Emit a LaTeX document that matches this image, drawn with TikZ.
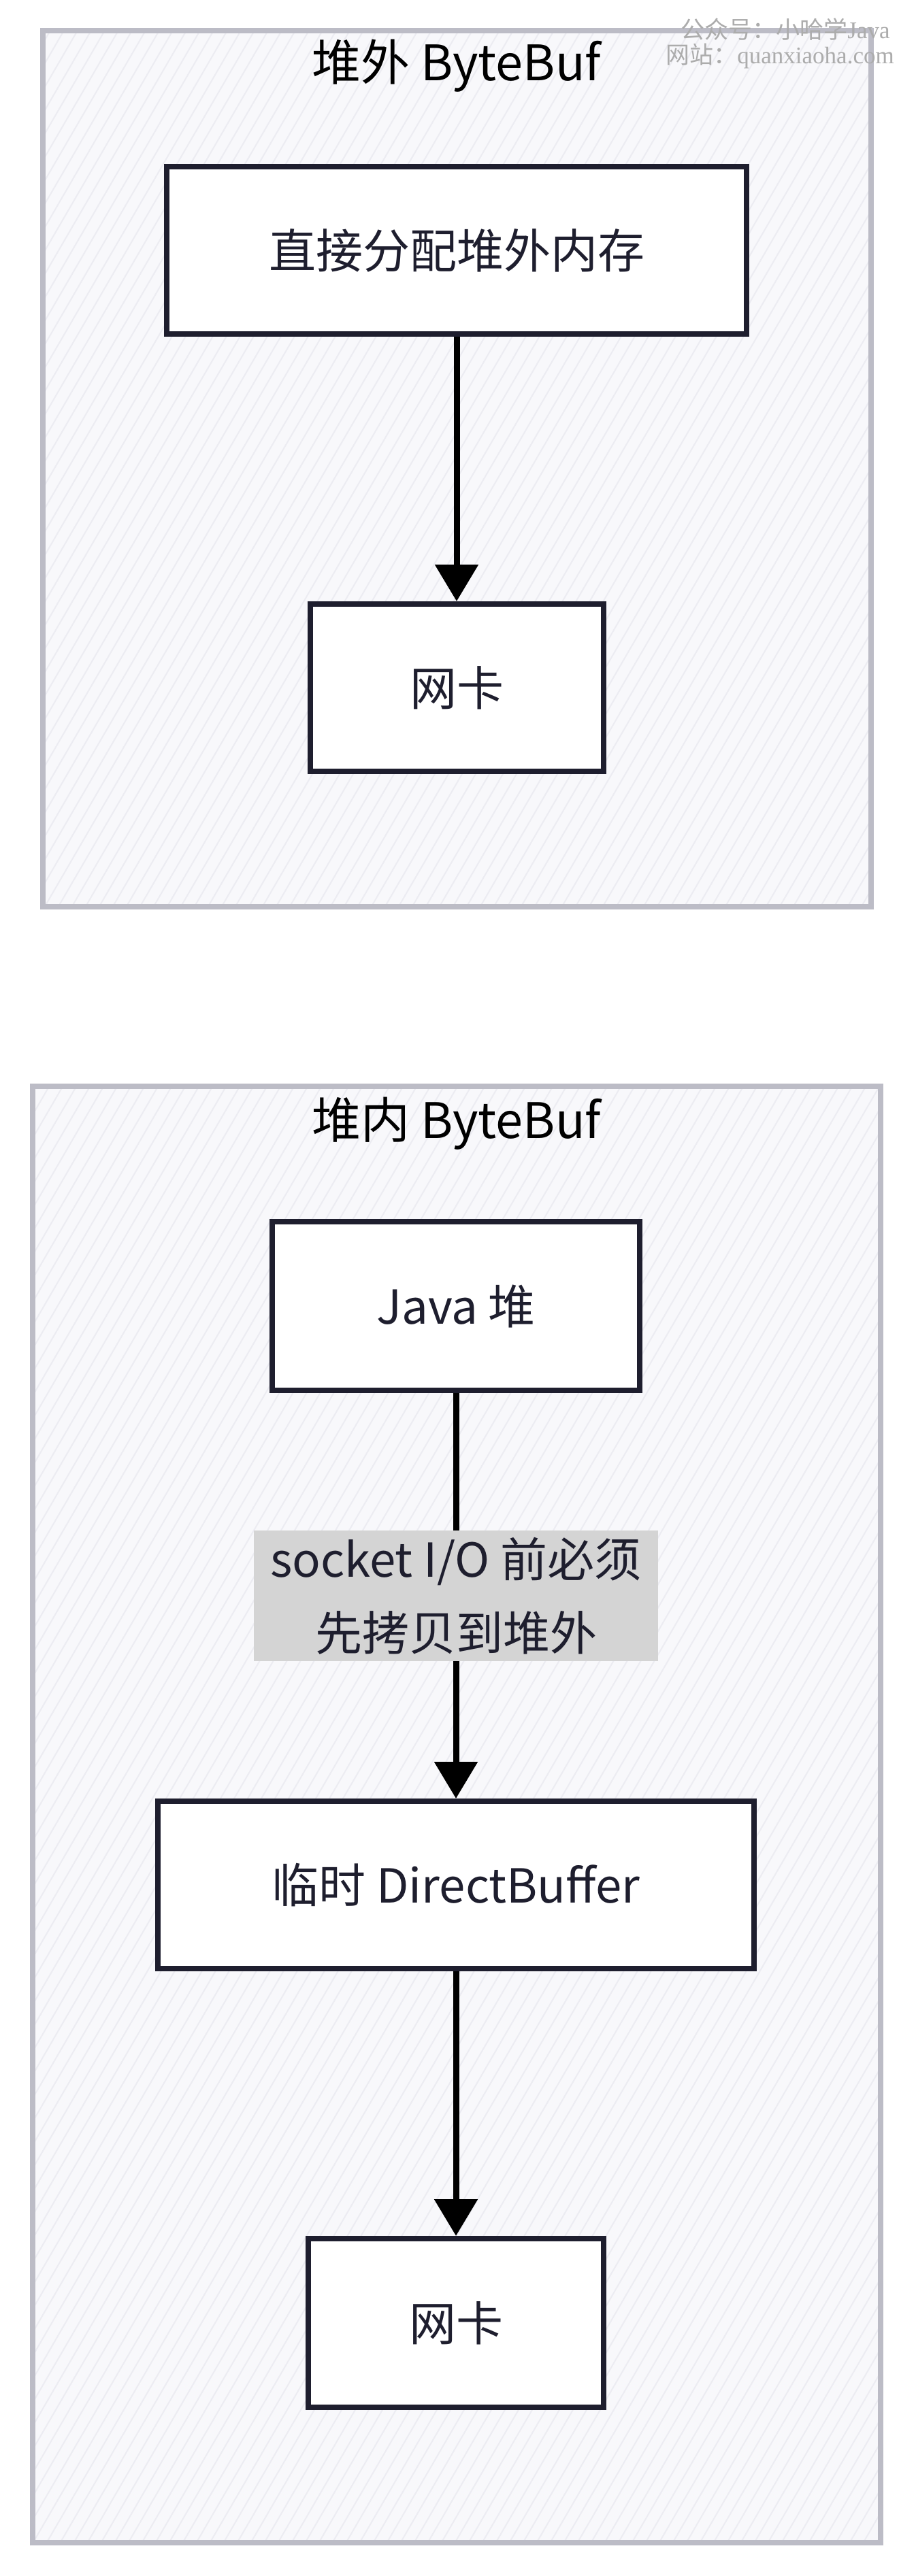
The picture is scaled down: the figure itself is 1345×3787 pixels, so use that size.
\documentclass[tikz,border=0pt]{standalone}
\usepackage{fontspec}
\setmainfont{Noto Sans CJK SC}
\newfontfamily\wmlatin{Liberation Serif}
\definecolor{inkdark}{RGB}{30,30,46}
\definecolor{framegray}{RGB}{188,188,198}
\definecolor{framefill}{RGB}{248,248,251}
\definecolor{hatchgray}{RGB}{236,236,242}
\definecolor{labelgray}{RGB}{212,212,212}
\definecolor{wmgray}{RGB}{172,172,172}
\usetikzlibrary{arrows.meta,positioning}

\begin{document}
\begin{tikzpicture}[x=0.5pt,y=-0.5pt,node distance=194.5pt,
  frame/.style={fill=framefill,inner sep=0pt},
  framebox/.style={draw=framegray,line width=4pt},
  hatch/.style={draw=hatchgray,line width=1pt},
  title/.style={font=\fontsize{36}{43}\selectfont,text=black},
  membox/.style={draw=inkdark,line width=4pt,fill=white,minimum height=123pt,
              font=\fontsize{34.5}{41}\selectfont,text=inkdark},
  flow/.style={-{Triangle[length=27pt,width=31pt]},line width=4.5pt,black},
  copynote/.style={fill=labelgray,align=center,inner xsep=12pt,inner ysep=5pt,
              font=\fontsize{34.5}{54}\selectfont,text=inkdark},
  wmtext/.style={anchor=west,inner sep=0pt,text=wmgray,font=\fontsize{17.5}{21}\selectfont}]
  \useasboundingbox[fill=white] (0,0) rectangle (1345,3787);

  % containers
  \node[frame,minimum width=608.5pt,minimum height=644pt] (offheap) at (671.5,689) {};
  \node[frame,minimum width=623pt,minimum height=1070.5pt] (onheap) at (671,2667.5) {};
  \begin{scope}
    \clip ([shift={(4,-4)}]offheap.south west) rectangle ([shift={(-4,4)}]offheap.north east)
          ([shift={(4,-4)}]onheap.south west) rectangle ([shift={(-4,4)}]onheap.north east);
    \foreach \k in {-2200,-2180,...,1400}
      \draw[hatch] (\k,3787) -- ++(2200,-3787);
  \end{scope}
  \draw[framebox] (offheap.south west) rectangle (offheap.north east);
  \draw[framebox] (onheap.south west) rectangle (onheap.north east);

  % off-heap path
  \node[title] (offtitle) at (671,97) {堆外 ByteBuf};
  \node[membox,minimum width=426pt] (direct) at (671,368) {直接分配堆外内存};
  \node[membox,minimum width=215.5pt,below=of direct] (nicA) {网卡};
  \draw[flow] (direct) -- (nicA);

  % on-heap path
  \node[title] (ontitle) at (671,1652) {堆内 ByteBuf};
  \node[membox,minimum width=270pt,minimum height=124pt] (javaheap) at (670,1920) {Java 堆};
  \node[membox,minimum width=438pt,below=298pt of javaheap] (tempbuf) {临时 DirectBuffer};
  \node[membox,minimum width=217pt,minimum height=124pt,below=of tempbuf] (nicB) {网卡};
  \draw[flow] (javaheap) -- node[copynote] (copyhint) {socket I/O 前必须\\先拷贝到堆外} (tempbuf);
  \draw[flow] (tempbuf) -- (nicB);

  % watermark
  \node[wmtext] (wmA) at (1000,43) {公众号：小哈学{\wmlatin Java}};
  \node[wmtext] (wmB) at (978,82) {网站：{\wmlatin quanxiaoha.com}};
\end{tikzpicture}
\end{document}
